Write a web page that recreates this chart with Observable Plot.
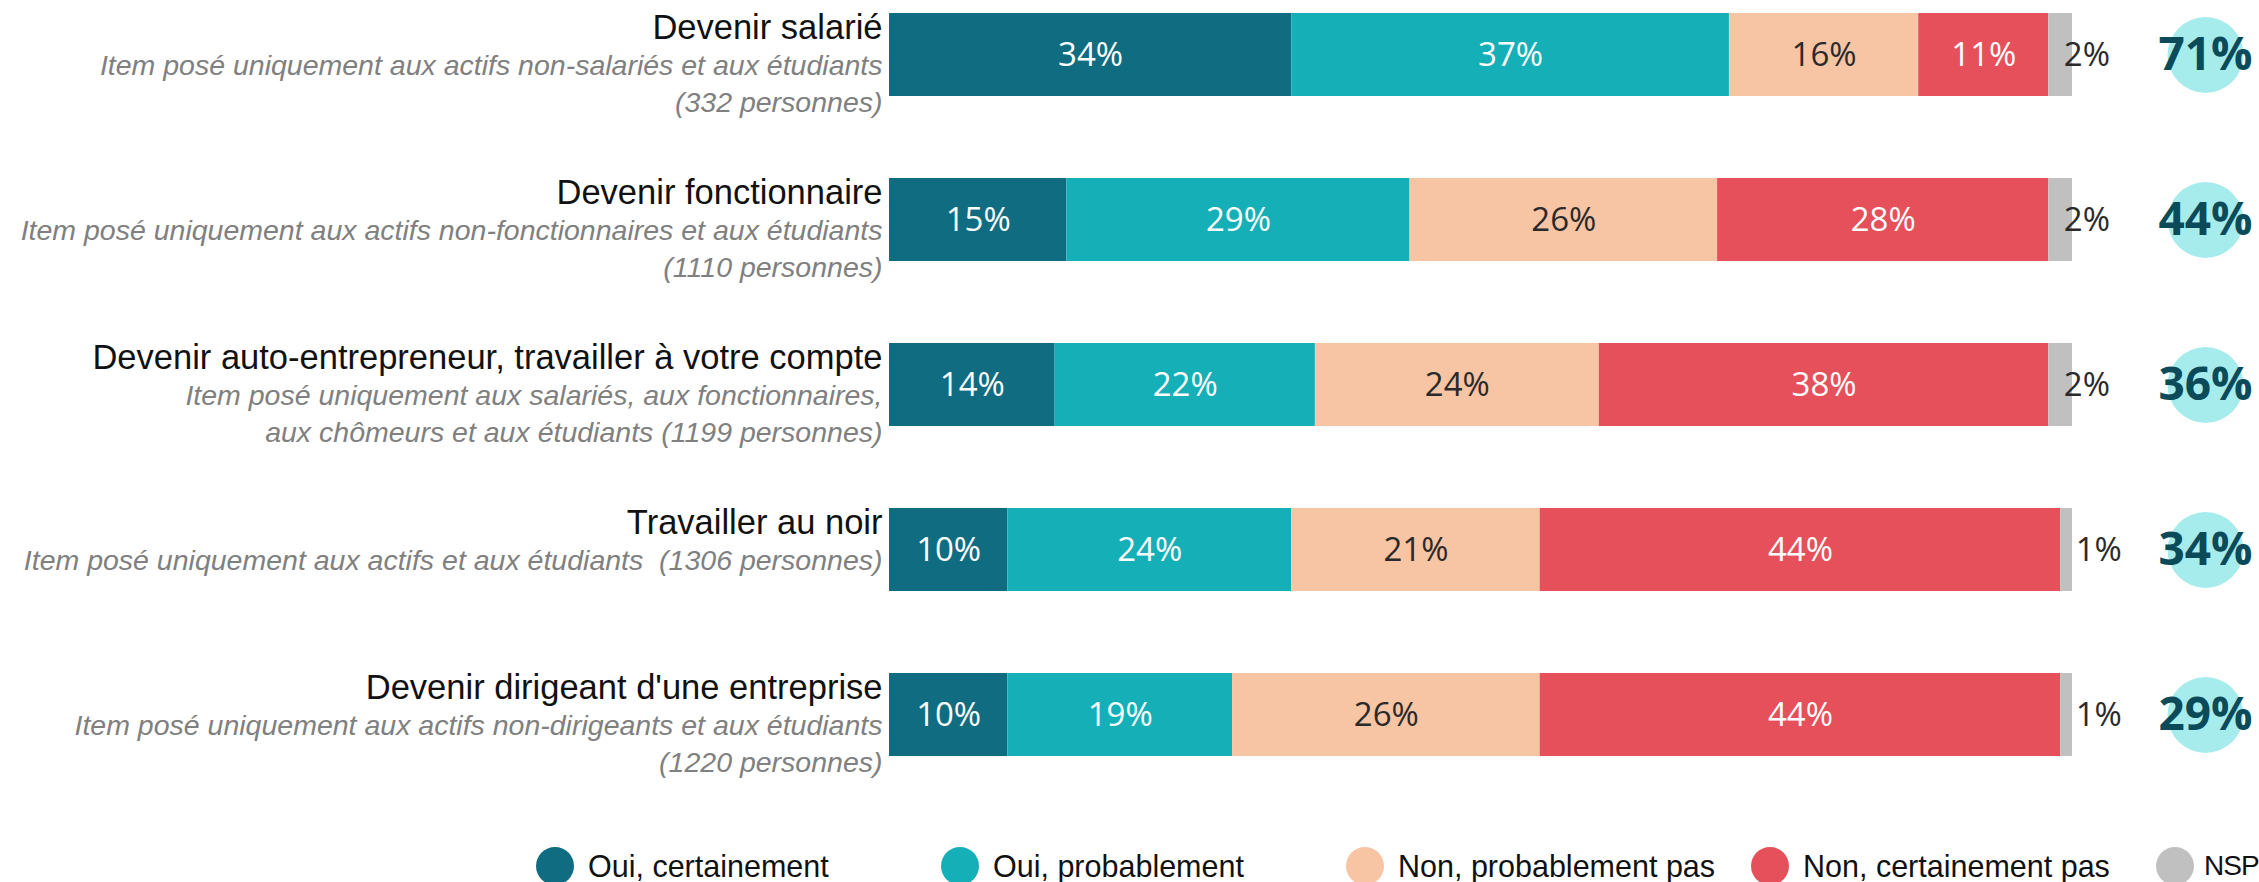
<!DOCTYPE html>
<html>
<head>
<meta charset="utf-8">
<script src="https://cdn.jsdelivr.net/npm/d3@7"></script>
<script src="https://cdn.jsdelivr.net/npm/@observablehq/plot@0.6"></script>
<style>
  html, body { margin: 0; padding: 0; background: #ffffff; overflow: hidden; }
  #chart svg { display: block; }
  #legend { display: flex; flex-wrap: nowrap; white-space: nowrap; margin-top: 47px; padding-left: 536px; font-family: "Liberation Sans", Arial, sans-serif; font-size: 30.5px; color: #111; }
  #legend .item { display: flex; align-items: center; width: 405px; flex: none; }
  #legend .sw { width: 38px; height: 38px; border-radius: 50%; margin-right: 14px; flex: none; }
  #legend .item.last .sw { margin-right: 10px; }
  #legend .item.last span:last-child { font-size: 28px; letter-spacing: -1px; }
</style>
</head>
<body>
<div id="chart"></div>
<div id="legend"></div>
<script>
const items = [
  "Devenir salarié",
  "Devenir fonctionnaire",
  "Devenir auto-entrepreneur, travailler à votre compte",
  "Travailler au noir",
  "Devenir dirigeant d'une entreprise"
];
const notes = [
  "Item posé uniquement aux actifs non-salariés et aux étudiants\n(332 personnes)",
  "Item posé uniquement aux actifs non-fonctionnaires et aux étudiants\n(1110 personnes)",
  "Item posé uniquement aux salariés, aux fonctionnaires,\naux chômeurs et aux étudiants (1199 personnes)",
  "Item posé uniquement aux actifs et aux étudiants  (1306 personnes)",
  "Item posé uniquement aux actifs non-dirigeants et aux étudiants\n(1220 personnes)"
];
const responses = ["Oui, certainement", "Oui, probablement", "Non, probablement pas", "Non, certainement pas", "NSP"];
const ouiCertainement    = [34, 15, 14, 10, 10];
const ouiProbablement    = [37, 29, 22, 24, 19];
const nonProbablementPas = [16, 26, 24, 21, 26];
const nonCertainementPas = [11, 28, 38, 44, 44];
const nsp                = [2, 2, 2, 1, 1];
const totalOui           = [71, 44, 36, 34, 29];
const colors = ["#0f6c81", "#14afb7", "#f7c4a4", "#e6505a", "#c0c0c0"];

const series = [ouiCertainement, ouiProbablement, nonProbablementPas, nonCertainementPas, nsp];
const data = [];
items.forEach((item, i) => {
  responses.forEach((response, j) => {
    data.push({item, response, value: series[j][i]});
  });
});
const rows = items.map((item, i) => ({item, note: notes[i], total: totalOui[i]}));

const numFont = "'Open Sans', 'Liberation Sans', sans-serif";
const txtFont = "'Liberation Sans', Arial, sans-serif";

const chart = Plot.plot({
  width: 2259,
  height: 800,
  marginLeft: 889,
  marginRight: 187,
  marginTop: 0,
  marginBottom: 31,
  x: {domain: [0, 100], axis: null},
  y: {domain: items, axis: null, paddingInner: 0.5, paddingOuter: 0.0787},
  color: {domain: responses, range: colors},
  marks: [
    Plot.barX(data, {x: "value", y: "item", fill: "response"}),
    Plot.text(data, Plot.filter(d => d.response !== "NSP" && d.response !== "Non, probablement pas",
      Plot.stackX({x: "value", y: "item", text: d => d.value + "%", fill: "white", fontSize: 33, fontFamily: numFont}))),
    Plot.text(data, Plot.filter(d => d.response === "Non, probablement pas",
      Plot.stackX({x: "value", y: "item", text: d => d.value + "%", fill: "#2a2a2a", fontSize: 33, fontFamily: numFont}))),
    Plot.text(data, Plot.filter(d => d.response === "NSP",
      Plot.stackX1({x: "value", y: "item", text: d => d.value + "%", fill: "#2a2a2a", fontSize: 33, fontFamily: numFont, textAnchor: "start", dx: 15}))),
    Plot.text(rows, {y: "item", frameAnchor: "left", text: "item", textAnchor: "end", dx: -7, dy: -27, fontSize: 34.5, fontFamily: txtFont, fill: "#111"}),
    Plot.text(rows, {y: "item", frameAnchor: "left", text: "note", textAnchor: "end", dx: -7, dy: -7, lineAnchor: "top", lineHeight: 1.31, fontSize: 28.5, fontStyle: "italic", fontFamily: txtFont, fill: "#808080"}),
    Plot.dot(rows, {y: "item", frameAnchor: "right", dx: 133, r: 38, fill: "#a7ecec"}),
    Plot.text(rows, {y: "item", frameAnchor: "right", dx: 133, textAnchor: "middle", text: d => d.total + "%", fontSize: 46, fontWeight: 700, fontFamily: numFont, fill: "#0b4b59"})
  ]
});
document.getElementById("chart").appendChild(chart);

const legend = document.getElementById("legend");
responses.forEach((r, i) => {
  const it = document.createElement("div");
  it.className = "item" + (i === responses.length - 1 ? " last" : "");
  const sw = document.createElement("span");
  sw.className = "sw";
  sw.style.background = colors[i];
  const lab = document.createElement("span");
  lab.textContent = r;
  it.appendChild(sw);
  it.appendChild(lab);
  legend.appendChild(it);
});
</script>
</body>
</html>
